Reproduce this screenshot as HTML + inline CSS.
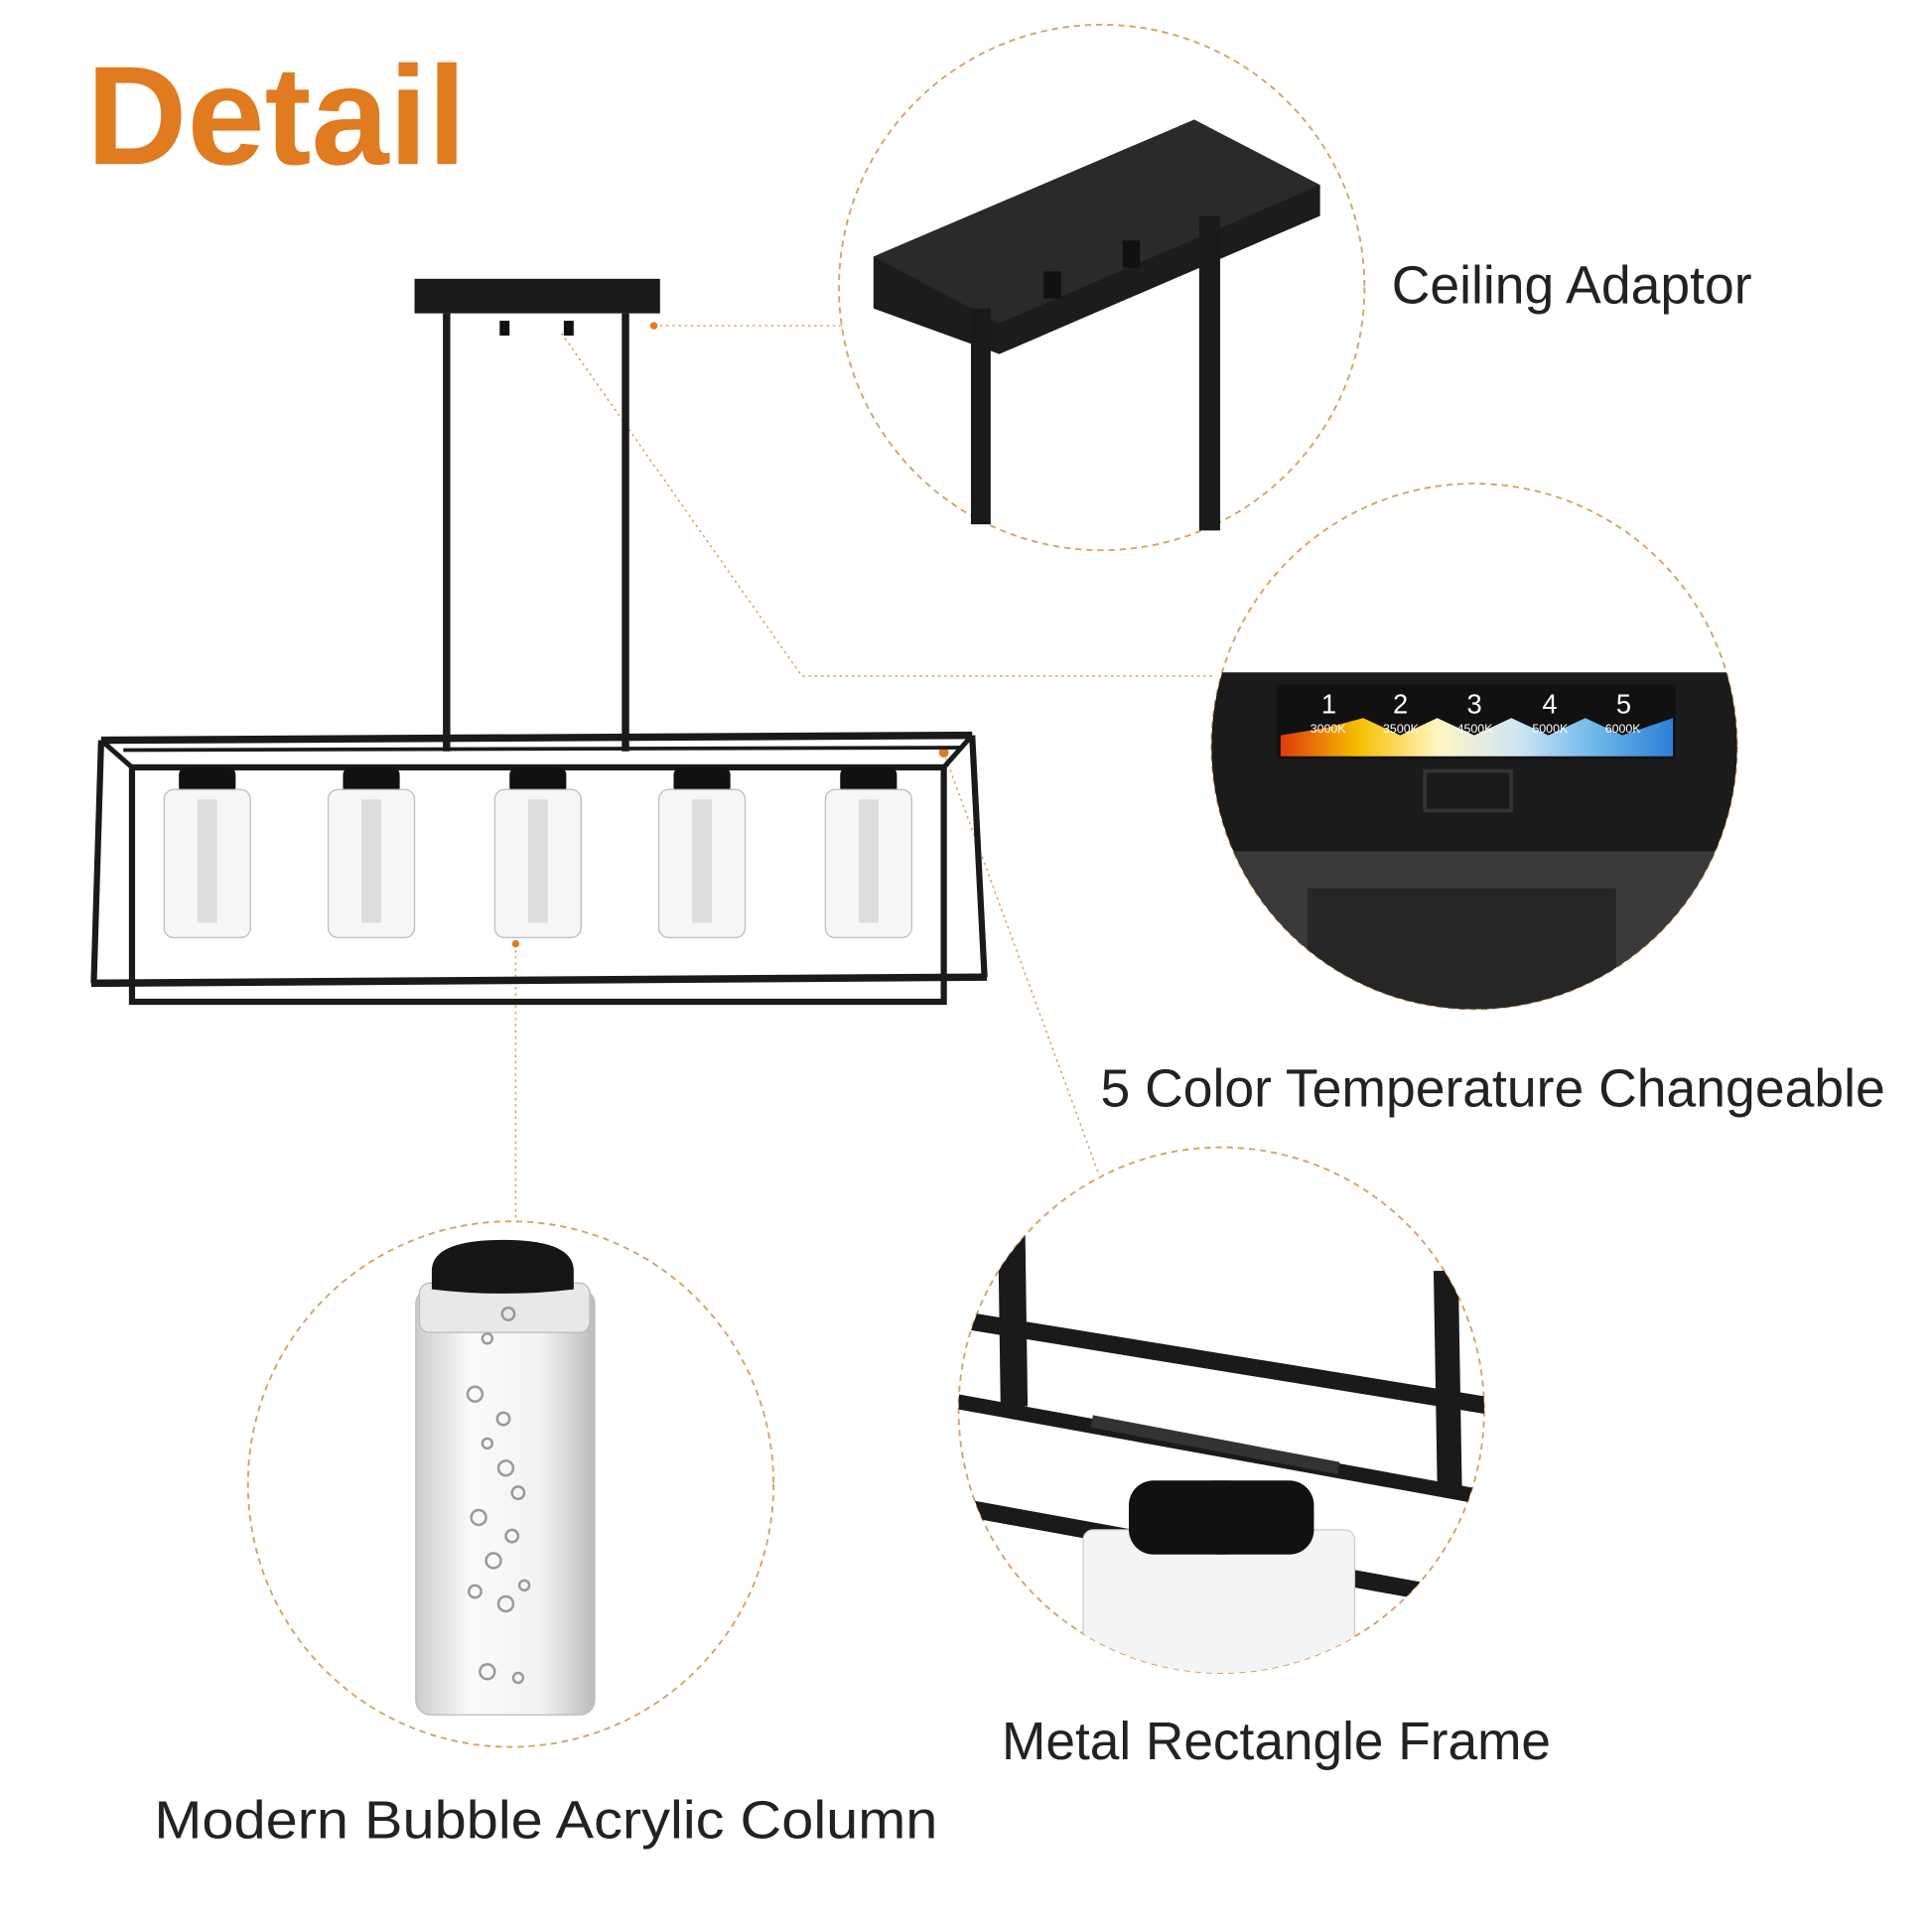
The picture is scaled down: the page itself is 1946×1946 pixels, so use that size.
<!DOCTYPE html>
<html><head><style>html,body{margin:0;padding:0;background:#fff}svg{display:block}</style></head><body>
<svg width="1946" height="1946" viewBox="0 0 1566 1566" xmlns="http://www.w3.org/2000/svg" font-family="Liberation Sans, sans-serif">
<defs>
<clipPath id="c2"><circle cx="1195" cy="605" r="213"/></clipPath>
<clipPath id="c3"><circle cx="990" cy="1143" r="213"/></clipPath>
<linearGradient id="rb" x1="0" x2="1">
<stop offset="0" stop-color="#e03a10"/><stop offset="0.2" stop-color="#f5c000"/><stop offset="0.4" stop-color="#fff6c0"/><stop offset="0.6" stop-color="#cfe6f5"/><stop offset="0.8" stop-color="#6fb8ea"/><stop offset="1" stop-color="#2c7fd8"/></linearGradient>
<linearGradient id="cyl" x1="0" x2="1"><stop offset="0" stop-color="#ccc"/><stop offset="0.3" stop-color="#fafafa"/><stop offset="0.7" stop-color="#f3f3f3"/><stop offset="1" stop-color="#bbb"/></linearGradient>
</defs>
<text x="70" y="133" font-size="114" font-weight="bold" fill="#e07b1f" textLength="308" lengthAdjust="spacingAndGlyphs">Detail</text>
<g fill="#222" font-size="43">
<text x="1128" y="246" textLength="292" lengthAdjust="spacingAndGlyphs">Ceiling Adaptor</text>
<text x="892" y="897" textLength="636" lengthAdjust="spacingAndGlyphs">5 Color Temperature Changeable</text>
<text x="812" y="1426" textLength="445" lengthAdjust="spacingAndGlyphs">Metal Rectangle Frame</text>
<text x="125" y="1490" textLength="635" lengthAdjust="spacingAndGlyphs">Modern Bubble Acrylic Column</text>
</g>
<g fill="none" stroke="#d9a060" stroke-width="1.5" stroke-dasharray="5 4">
<circle cx="893" cy="233" r="213"/>
<circle cx="1195" cy="605" r="213"/>
<circle cx="990" cy="1143" r="213"/>
<circle cx="414" cy="1203" r="213"/>
</g>
<g fill="none" stroke="#d9a060" stroke-width="1.2" stroke-dasharray="2 3">
<line x1="530" y1="264" x2="683" y2="264"/>
<polyline points="455,270 650,548 985,548"/>
<line x1="765" y1="610" x2="890" y2="950"/>
<line x1="418" y1="765" x2="418" y2="990"/>
</g>
<g fill="#e07b1f"><circle cx="530" cy="264" r="3"/><circle cx="440" cy="233" r="3"/><circle cx="765" cy="610" r="4"/><circle cx="418" cy="765" r="3"/></g>
<!-- chandelier -->
<rect x="336" y="226" width="199" height="28" fill="#1a1a1a"/>
<rect x="405" y="260" width="8" height="12" fill="#111"/><rect x="457" y="260" width="8" height="12" fill="#111"/>
<rect x="359" y="254" width="6" height="355" fill="#1a1a1a"/><rect x="504" y="254" width="6" height="355" fill="#1a1a1a"/>
<g stroke="#1a1a1a" fill="none">
<polyline points="82,600 788,596" stroke-width="6"/>
<polyline points="74,797 800,792" stroke-width="6"/>
<line x1="82" y1="600" x2="76" y2="797" stroke-width="5"/>
<line x1="788" y1="596" x2="798" y2="792" stroke-width="5"/>
<rect x="107" y="622" width="658" height="190" stroke-width="5"/>
<line x1="82" y1="600" x2="107" y2="622" stroke-width="4"/>
<line x1="788" y1="596" x2="765" y2="622" stroke-width="4"/>
<line x1="100" y1="608" x2="780" y2="606" stroke-width="3"/>
</g>
<g>
<g transform="translate(168,0)"><rect x="-23" y="622" width="46" height="22" rx="6" fill="#111"/><rect x="-35" y="640" width="70" height="120" rx="8" fill="#f4f6f8" stroke="#bbb"/><rect x="-8" y="648" width="16" height="100" fill="#ddd"/></g>
<g transform="translate(301,0)"><rect x="-23" y="622" width="46" height="22" rx="6" fill="#111"/><rect x="-35" y="640" width="70" height="120" rx="8" fill="#f4f6f8" stroke="#bbb"/><rect x="-8" y="648" width="16" height="100" fill="#ddd"/></g>
<g transform="translate(436,0)"><rect x="-23" y="622" width="46" height="22" rx="6" fill="#111"/><rect x="-35" y="640" width="70" height="120" rx="8" fill="#f4f6f8" stroke="#bbb"/><rect x="-8" y="648" width="16" height="100" fill="#ddd"/></g>
<g transform="translate(569,0)"><rect x="-23" y="622" width="46" height="22" rx="6" fill="#111"/><rect x="-35" y="640" width="70" height="120" rx="8" fill="#f4f6f8" stroke="#bbb"/><rect x="-8" y="648" width="16" height="100" fill="#ddd"/></g>
<g transform="translate(704,0)"><rect x="-23" y="622" width="46" height="22" rx="6" fill="#111"/><rect x="-35" y="640" width="70" height="120" rx="8" fill="#f4f6f8" stroke="#bbb"/><rect x="-8" y="648" width="16" height="100" fill="#ddd"/></g>
</g>
<!-- top circle: ceiling adaptor -->
<polygon points="708,208 968,97 1070,150 1070,175 810,287 708,250" fill="#1c1c1c"/>
<polygon points="708,208 968,97 1070,150 810,262" fill="#2a2a2a"/>
<rect x="787" y="250" width="16" height="175" fill="#1a1a1a"/>
<rect x="972" y="175" width="17" height="255" fill="#1a1a1a"/>
<rect x="846" y="220" width="14" height="22" fill="#111"/><rect x="910" y="195" width="14" height="22" fill="#111"/>
<!-- middle circle -->
<g clip-path="url(#c2)">
<rect x="970" y="545" width="440" height="280" fill="#1b1b1b"/>
<rect x="970" y="690" width="440" height="130" fill="#3a3a3a"/>
<rect x="1060" y="720" width="250" height="110" fill="#262626"/>
<rect x="1035" y="555" width="323" height="60" fill="#111"/>
<polygon points="1038,613 1038,596 1075,590 1105,582 1135,596 1165,582 1195,596 1225,582 1255,596 1285,582 1315,596 1356,582 1356,613" fill="url(#rb)"/>
<g fill="#fff" font-size="22"><text x="1071" y="578">1</text><text x="1129" y="578">2</text><text x="1189" y="578">3</text><text x="1250" y="578">4</text><text x="1310" y="578">5</text>
<g font-size="10"><text x="1062" y="594">3000K</text><text x="1121" y="594">3500K</text><text x="1181" y="594">4500K</text><text x="1242" y="594">5000K</text><text x="1301" y="594">6000K</text></g></g>
<rect x="1155" y="625" width="70" height="32" fill="none" stroke="#333" stroke-width="3"/>
</g>
<!-- bottom right circle -->
<g clip-path="url(#c3)" stroke="#1a1a1a" fill="none">
<line x1="780" y1="1070" x2="1210" y2="1140" stroke-width="14"/>
<line x1="770" y1="1135" x2="1210" y2="1215" stroke-width="12"/>
<line x1="770" y1="1220" x2="1210" y2="1300" stroke-width="14"/>
<line x1="820" y1="1000" x2="822" y2="1140" stroke-width="22"/>
<line x1="1172" y1="1030" x2="1175" y2="1205" stroke-width="20"/>
<line x1="885" y1="1152" x2="1085" y2="1190" stroke-width="10" stroke="#333"/>
</g>
<g clip-path="url(#c3)">
<rect x="878" y="1240" width="220" height="120" rx="8" fill="#f2f4f6" stroke="#ccc"/>
<ellipse cx="990" cy="1230" rx="75" ry="30" fill="#111"/>
<rect x="915" y="1200" width="150" height="60" rx="20" fill="#111"/>
</g>
<!-- bottom left cylinder -->
<rect x="337" y="1045" width="145" height="345" rx="12" fill="url(#cyl)" stroke="#bbb"/>
<rect x="340" y="1040" width="138" height="40" rx="8" fill="#e8e8e8" stroke="#bbb"/>
<path d="M350,1030 Q350,1005 408,1005 Q465,1005 465,1030 L465,1045 Q408,1052 350,1045 Z" fill="#161616"/>
<g fill="none" stroke="#999" stroke-width="2">
<circle cx="385" cy="1130" r="6"/><circle cx="408" cy="1150" r="5"/><circle cx="395" cy="1170" r="4"/><circle cx="410" cy="1190" r="6"/><circle cx="420" cy="1210" r="5"/><circle cx="388" cy="1230" r="6"/><circle cx="415" cy="1245" r="5"/><circle cx="400" cy="1265" r="6"/><circle cx="385" cy="1290" r="5"/><circle cx="410" cy="1300" r="6"/><circle cx="425" cy="1285" r="4"/><circle cx="395" cy="1355" r="6"/><circle cx="420" cy="1360" r="4"/><circle cx="412" cy="1065" r="5"/><circle cx="395" cy="1085" r="4"/>
</g>
</svg>
</body></html>
